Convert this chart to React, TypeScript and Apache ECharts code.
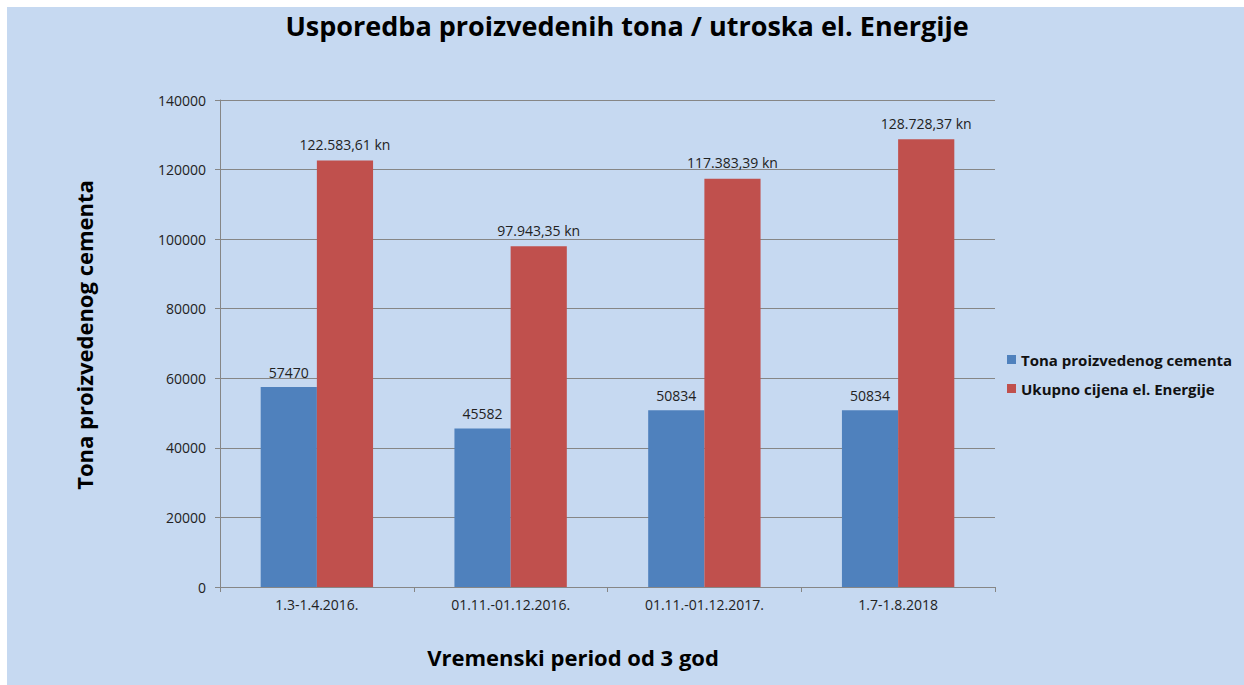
import React, { useEffect, useRef } from "react";
import * as echarts from "echarts";

const categories = ["1.3-1.4.2016.", "01.11.-01.12.2016.", "01.11.-01.12.2017.", "1.7-1.8.2018"];
const tonaValues = [57470, 45582, 50834, 50834];
const energijaValues = [122583.61, 97943.35, 117383.39, 128728.37];
const energijaLabels = ["122.583,61 kn", "97.943,35 kn", "117.383,39 kn", "128.728,37 kn"];
const seriesNames = ["Tona proizvedenog cementa", "Ukupno cijena el. Energije"];
const titleText = "Usporedba proizvedenih tona / utroska el. Energije";
const yName = "Tona proizvedenog cementa";
const xName = "Vremenski period od 3 god";

const FONT = "Open Sans";

export default function App() {
  const ref = useRef<HTMLDivElement>(null);
  useEffect(() => {
    if (!ref.current) return;
    const chart = echarts.init(ref.current, undefined, { renderer: "svg" });
    chart.setOption({
      animation: false,
      backgroundColor: "#C6D9F1",
      textStyle: { fontFamily: FONT },
      title: {
        text: titleText,
        left: 615,
        top: 0,
        textAlign: "center",
        textStyle: { fontFamily: FONT, fontSize: 27, fontWeight: "bold", color: "#000" },
      },
      legend: {
        orient: "vertical",
        left: 995,
        top: 340,
        itemWidth: 9,
        itemHeight: 9,
        itemGap: 14,
        icon: "rect",
        textStyle: { fontFamily: FONT, fontSize: 15, fontWeight: "bold", color: "#111" },
        data: seriesNames,
      },
      graphic: [
        {
          type: "text",
          x: 77,
          y: 328,
          rotation: Math.PI / 2,
          style: {
            text: yName,
            fontFamily: FONT,
            fontSize: 22,
            fontWeight: "bold",
            fill: "#000",
            textAlign: "center",
            textVerticalAlign: "middle",
          },
        },
        {
          type: "text",
          x: 566,
          y: 650,
          style: {
            text: xName,
            fontFamily: FONT,
            fontSize: 22,
            fontWeight: "bold",
            fill: "#000",
            textAlign: "center",
            textVerticalAlign: "middle",
          },
        },
      ],
      grid: { left: 213, top: 93, right: 249, bottom: 98, containLabel: false },
      xAxis: {
        type: "category",
        data: categories,
        axisLine: { lineStyle: { color: "#868686" } },
        axisTick: { show: true, length: 5, lineStyle: { color: "#868686" } },
        axisLabel: { fontFamily: FONT, fontSize: 14, color: "#222", margin: 10 },
      },
      yAxis: {
        type: "value",
        min: 0,
        max: 140000,
        interval: 20000,
        axisLine: { show: true, lineStyle: { color: "#868686" } },
        axisTick: { show: true, length: 5, lineStyle: { color: "#868686" } },
        axisLabel: {
          fontFamily: FONT,
          fontSize: 14,
          color: "#222",
          margin: 14,
          formatter: (v: number) => String(v),
        },
        splitLine: { lineStyle: { color: "#868686", width: 1 } },
      },
      series: [
        {
          name: seriesNames[0],
          type: "bar",
          data: tonaValues,
          barGap: "0%",
          barCategoryGap: "42%",
          itemStyle: { color: "#4F81BD" },
          label: {
            show: true,
            position: "top",
            distance: 8,
            fontFamily: FONT,
            fontSize: 14,
            color: "#222",
          },
        },
        {
          name: seriesNames[1],
          type: "bar",
          data: energijaValues,
          barGap: "0%",
          barCategoryGap: "42%",
          itemStyle: { color: "#C0504D" },
          label: {
            show: true,
            position: "top",
            distance: 9,
            fontFamily: FONT,
            fontSize: 14,
            color: "#222",
            formatter: (p: any) => energijaLabels[p.dataIndex],
          },
        },
      ],
    });
    return () => chart.dispose();
  }, []);
  return (
    <div
      ref={ref}
      style={{ position: "fixed", left: 7, top: 7, width: 1237, height: 678 }}
    />
  );
}
